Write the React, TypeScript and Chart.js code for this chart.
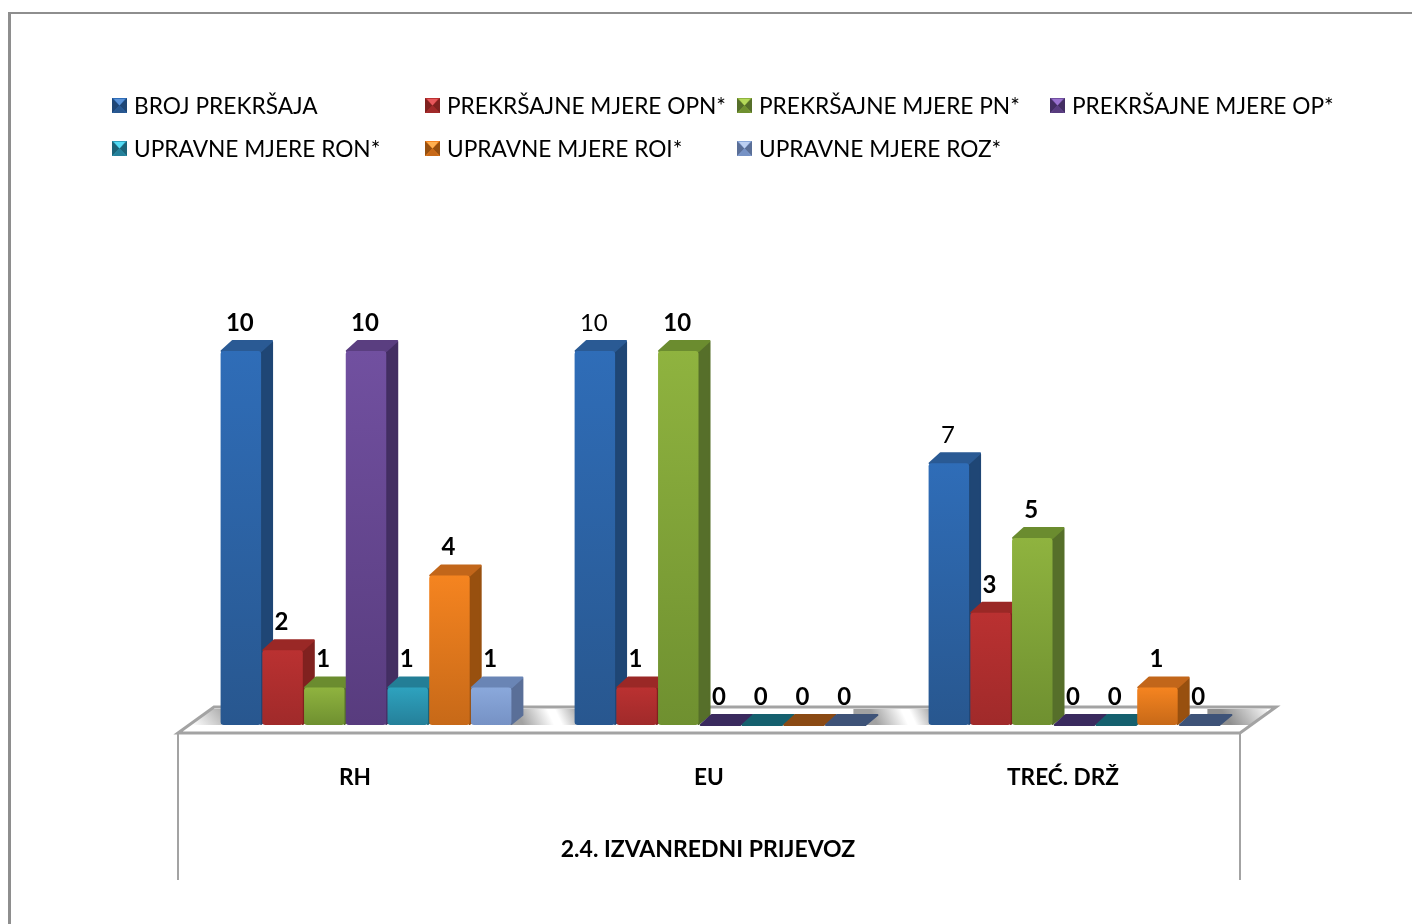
import React, { useEffect, useRef } from "react";
import { Chart, registerables } from "chart.js";

Chart.register(...registerables);

const categories = ["RH", "EU", "TREĆ. DRŽ"];
const seriesNames = [
  "BROJ PREKRŠAJA",
  "PREKRŠAJNE MJERE OPN*",
  "PREKRŠAJNE MJERE PN*",
  "PREKRŠAJNE MJERE OP*",
  "UPRAVNE MJERE RON*",
  "UPRAVNE MJERE ROI*",
  "UPRAVNE MJERE ROZ*",
];
const brojPrekrsaja = [10, 10, 7];
const mjereOpn = [2, 1, 3];
const mjerePn = [1, 10, 5];
const mjereOp = [10, 0, 0];
const mjereRon = [1, 0, 0];
const mjereRoi = [4, 0, 1];
const mjereRoz = [1, 0, 0];
const seriesValues = [brojPrekrsaja, mjereOpn, mjerePn, mjereOp, mjereRon, mjereRoi, mjereRoz];
const axisTitle = "2.4. IZVANREDNI PRIJEVOZ";
// [series, category] pairs whose value label is set in regular weight
const regularLabels = ["0:1", "0:2"];

const frontTop = ["#2F6DB8", "#BA3131", "#8FB33F", "#7150A0", "#2EA2BE", "#F58420", "#8AA8DB"];
const frontBottom = ["#28578F", "#A02A2A", "#6F9030", "#583C7E", "#25809A", "#C76918", "#7692C5"];
const sideColors = ["#1F4675", "#80211F", "#566F2A", "#432E62", "#1C6378", "#98500F", "#5A6F98"];
const topColors = ["#2A5A94", "#9A2826", "#6B8C2F", "#5A3E80", "#237E96", "#C2661A", "#6A85B5"];
const zeroColors = ["#1F4675", "#80211F", "#566F2A", "#3A2A5E", "#15606E", "#8A4A14", "#3E5378"];
const gemLight = ["#5B93D8", "#E8585C", "#B5D95A", "#9A72CF", "#55DDF5", "#FFB050", "#BCD0F2"];

const FONT = "Lato, Carlito, sans-serif";
const DX = 12;
const DY = 10;

const chartPlugin = {
  id: "bars3d",
  beforeDraw(chart: any) {
    const { ctx, width, height } = chart;
    ctx.save();
    ctx.fillStyle = "#ffffff";
    ctx.fillRect(0, 0, width, height);
    ctx.fillStyle = "#8E8E8E";
    ctx.fillRect(8, 12, 3, height - 12);
    ctx.fillRect(8, 12, width - 8, 2);
    ctx.restore();
  },
  beforeDatasetsDraw(chart: any) {
    const { ctx, chartArea } = chart;
    const base = chartArea.bottom;
    const left = 178;
    const right = 1240;

    // floor
    const frontY = base + 8;
    const backY = base - 18;
    const skew = 36;
    const floorPath = () => {
      ctx.beginPath();
      ctx.moveTo(left, frontY);
      ctx.lineTo(left + skew, backY);
      ctx.lineTo(right + skew, backY);
      ctx.lineTo(right, frontY);
      ctx.closePath();
    };
    ctx.save();
    floorPath();
    ctx.fillStyle = "#ffffff";
    ctx.fill();

    // floor shadow running between the bar groups
    const groups = categories.map((_, c) => {
      const first = chart.getDatasetMeta(0).data[c];
      const last = chart.getDatasetMeta(seriesNames.length - 1).data[c];
      return [first.x - first.width / 2, last.x + last.width / 2 + DX];
    });
    const bandTop = base - 16;
    const bandBottom = base;
    const shade = "#A2A2A2";
    const gaps = [
      [left + 14, groups[0][0]],
      [groups[0][1], groups[1][0]],
      [groups[1][1], groups[2][0]],
      [groups[2][1], right + 26],
    ];
    ctx.save();
    floorPath();
    ctx.clip();
    gaps.forEach(([a, b], i) => {
      const g = ctx.createLinearGradient(a, bandBottom, b, bandTop - 8);
      if (i === 0) {
        g.addColorStop(0, "#ffffff");
        g.addColorStop(1, shade);
      } else if (i === gaps.length - 1) {
        g.addColorStop(0, "#8F8F8F");
        g.addColorStop(1, "#ffffff");
      } else {
        g.addColorStop(0, shade);
        g.addColorStop(0.5, "#ffffff");
        g.addColorStop(0.62, "#ffffff");
        g.addColorStop(1, shade);
      }
      ctx.fillStyle = g;
      const x0 = i === 0 ? a : a - DX - 12;
      ctx.fillRect(x0, bandTop, b - x0 + 1, bandBottom - bandTop);
    });
    ctx.restore();

    // floor outline and the two walls that hang below it
    ctx.strokeStyle = "#A3A3A3";
    ctx.lineWidth = 3;
    ctx.lineJoin = "miter";
    floorPath();
    ctx.stroke();
    ctx.lineWidth = 2;
    ctx.beginPath();
    ctx.moveTo(left, frontY);
    ctx.lineTo(left, 880);
    ctx.moveTo(right, frontY);
    ctx.lineTo(right, 880);
    ctx.stroke();
    ctx.restore();

    // bars, left to right so each front covers its neighbour's side
    categories.forEach((_, c) => {
      seriesNames.forEach((__, s) => {
        const bar = chart.getDatasetMeta(s).data[c];
        const { x, y, base: b, width: w } = bar.getProps(["x", "y", "base", "width"], true);
        const l = x - w / 2;
        const r = x + w / 2;
        ctx.save();
        ctx.lineJoin = "round";
        ctx.lineWidth = 2;
        const face = (pts: number[][], color: string) => {
          ctx.beginPath();
          pts.forEach(([px, py], i) => (i ? ctx.lineTo(px, py) : ctx.moveTo(px, py)));
          ctx.closePath();
          ctx.fillStyle = color;
          ctx.strokeStyle = color;
          ctx.fill();
          ctx.stroke();
        };
        if (seriesValues[s][c] === 0) {
          face([[l + 1, b], [l + DX, b - DY], [r + DX, b - DY], [r, b]], zeroColors[s]);
        } else {
          face([[r, y + 1], [r + DX - 1, y - DY + 1], [r + DX - 1, b - DY], [r, b - 1]], sideColors[s]);
          face([[l + 1, y], [l + DX, y - DY], [r + DX - 1, y - DY], [r, y]], topColors[s]);
          const g = ctx.createLinearGradient(0, y, 0, b);
          g.addColorStop(0, frontTop[s]);
          g.addColorStop(1, frontBottom[s]);
          ctx.fillStyle = g;
          ctx.beginPath();
          ctx.roundRect(l, y, w, b - y, 3);
          ctx.fill();
        }
        ctx.restore();
      });
    });

    // value labels
    ctx.save();
    ctx.fillStyle = "#000000";
    ctx.textAlign = "center";
    ctx.textBaseline = "middle";
    categories.forEach((_, c) => {
      seriesNames.forEach((__, s) => {
        const bar = chart.getDatasetMeta(s).data[c];
        const regular = regularLabels.includes(s + ":" + c);
        ctx.font = (regular ? "400" : "700") + " 24px " + FONT;
        ctx.fillText(String(seriesValues[s][c]), bar.x - 1, bar.y - 28);
      });
    });
    ctx.restore();
    return false;
  },
  afterDraw(chart: any) {
    const { ctx, chartArea } = chart;
    ctx.save();
    // axis title
    ctx.fillStyle = "#000000";
    ctx.font = "700 23px " + FONT;
    ctx.textAlign = "center";
    ctx.textBaseline = "middle";
    ctx.fillText(axisTitle, (chartArea.left + chartArea.right) / 2 - 12, 850);

    // legend
    const xs = [112, 425, 737, 1050];
    const ys = [105.5, 148.5];
    seriesNames.forEach((name, i) => {
      const lx = xs[i % 4];
      const ly = ys[Math.floor(i / 4)];
      const sz = 15;
      const x0 = lx;
      const y0 = ly - sz / 2;
      const cx = x0 + sz / 2;
      const cy = y0 + sz / 2;
      ctx.fillStyle = frontTop[i];
      ctx.fillRect(x0, y0, sz, sz);
      ctx.fillStyle = sideColors[i];
      ctx.beginPath();
      ctx.moveTo(x0, y0);
      ctx.lineTo(cx, cy);
      ctx.lineTo(x0, y0 + sz);
      ctx.closePath();
      ctx.moveTo(x0 + sz, y0);
      ctx.lineTo(cx, cy);
      ctx.lineTo(x0 + sz, y0 + sz);
      ctx.closePath();
      ctx.fill();
      ctx.fillStyle = gemLight[i];
      ctx.beginPath();
      ctx.moveTo(x0 + 2, y0 + 1);
      ctx.lineTo(cx, cy);
      ctx.lineTo(x0 + sz - 2, y0 + 1);
      ctx.closePath();
      ctx.fill();
      ctx.fillStyle = frontBottom[i];
      ctx.beginPath();
      ctx.moveTo(x0 + 1, y0 + sz);
      ctx.lineTo(cx, cy);
      ctx.lineTo(x0 + sz - 1, y0 + sz);
      ctx.closePath();
      ctx.fill();

      ctx.fillStyle = "#000000";
      ctx.font = "400 22.7px " + FONT;
      ctx.textAlign = "left";
      ctx.textBaseline = "middle";
      ctx.fillText(name, lx + 22, ly + 1);
    });
    ctx.restore();
  },
};

export default function App() {
  const ref = useRef<HTMLCanvasElement | null>(null);
  useEffect(() => {
    const chart = new Chart(ref.current as HTMLCanvasElement, {
      type: "bar",
      data: {
        labels: categories,
        datasets: seriesNames.map((name, i) => ({
          label: name,
          data: seriesValues[i],
          backgroundColor: frontTop[i],
        })),
      },
      options: {
        animation: false,
        responsive: false,
        devicePixelRatio: 1,
        layout: { padding: { left: 189, right: 161, top: 351, bottom: 139 } },
        plugins: { legend: { display: false }, title: { display: false }, tooltip: { enabled: false } },
        datasets: { bar: { categoryPercentage: 0.825, barPercentage: 0.97 } },
        scales: {
          x: {
            grid: { display: false, drawTicks: false },
            border: { display: false },
            afterFit: (s: any) => {
              s.height = 60;
            },
            ticks: {
              padding: 39,
              labelOffset: -11,
              color: "#000000",
              maxRotation: 0,
              font: { family: FONT, size: 22.6, weight: "bold" },
            },
          },
          y: { display: false, min: 0, max: 10 },
        },
      } as any,
      plugins: [chartPlugin as any],
    });
    return () => chart.destroy();
  }, []);
  return (
    <canvas
      ref={ref}
      width={1412}
      height={924}
      style={{ position: "absolute", left: 0, top: 0, width: 1412, height: 924 }}
    />
  );
}
